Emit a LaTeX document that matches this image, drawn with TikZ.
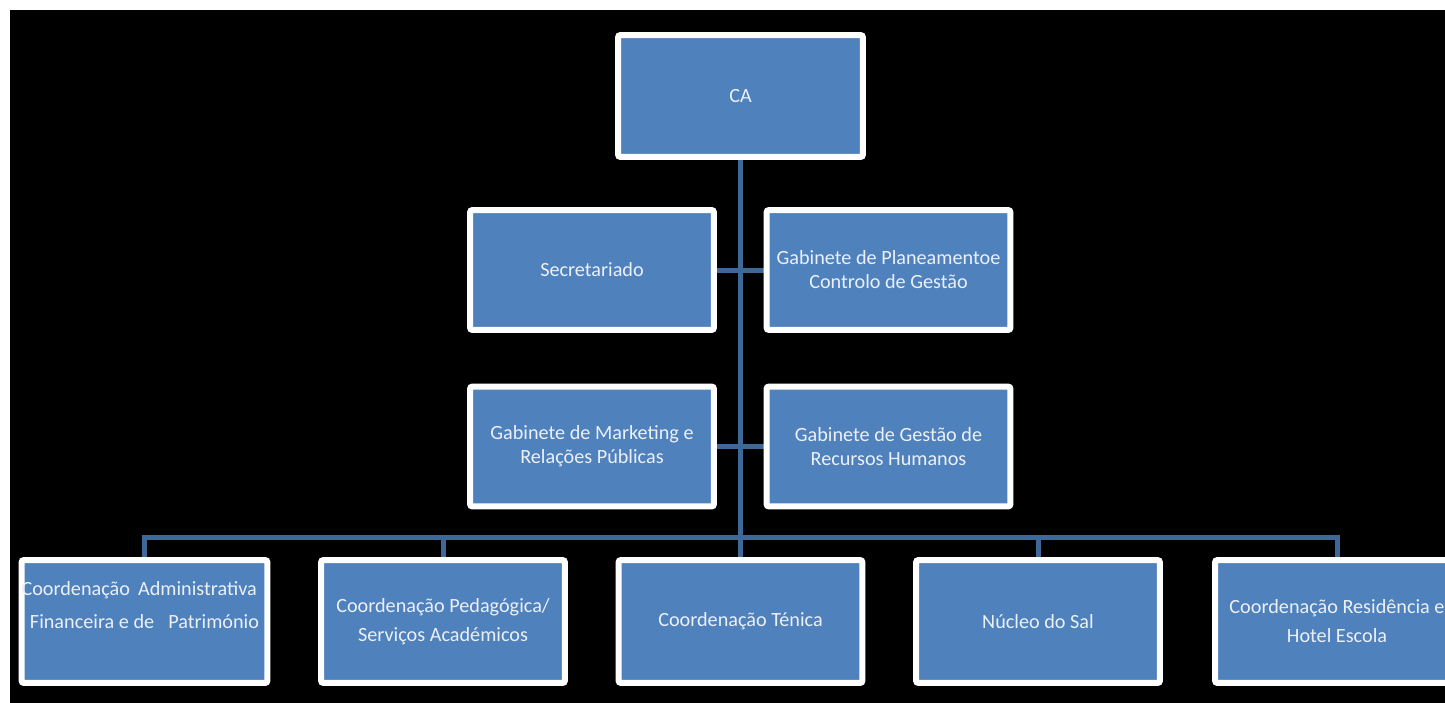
\documentclass[tikz,border=0pt]{standalone}
\usepackage{fontspec}
\setmainfont{Carlito}
\pgfdeclarelayer{bg}
\pgfdeclarelayer{links}
\pgfsetlayers{bg,links,main}
\definecolor{boxblue}{RGB}{79,129,189}
\definecolor{linkblue}{RGB}{62,104,152}
\definecolor{txt}{RGB}{236,240,246}
\begin{document}
\begin{tikzpicture}[x=0.02cm,y=-0.02cm,
  box/.style={draw=white, line width=0.12cm, fill=boxblue, rounded corners=0.05cm,
    minimum width=4.88cm, minimum height=2.4cm, inner sep=0pt, text=txt,
    font=\fontsize{11.5}{13.7}\selectfont, align=center},
  lowbox/.style={box, minimum height=2.46cm},
  link/.style={draw=linkblue, line width=0.1cm}]
\useasboundingbox (0,0) rectangle (1445,703);
\begin{pgfonlayer}{bg}
  \fill[white] (0,0) rectangle (1445,703);
  \fill[black] (10,10) rectangle (1445,703);
\end{pgfonlayer}

\node[box, minimum width=4.9cm, minimum height=2.44cm] (ca) at (740.5,96) {CA};
\node[box] (sec) at (592,270) {Secretariado};
\node[box] (plan) at (888.5,270) {Gabinete de Planeamentoe\\Controlo de Gestão};
\node[box] (mkt) at (592,446.5) {Gabinete de Marketing e\\Relações Públicas};
\node[box] (rh) at (888.5,446.5) {Gabinete de Gestão de\\Recursos Humanos};

\node[lowbox, font=\fontsize{11.5}{18.7}\selectfont] (b1) at (144.5,621.5)
  {\makebox[4.92cm][s]{Coordenação\hspace{0.4em}Administrativa}\\Financeira e de\hspace{0.7em}Património\\[-0.2cm]\strut};
\node[lowbox, font=\fontsize{11.5}{16.5}\selectfont] (b2) at (443,621.5) {Coordenação Pedagógica/\\Serviços Académicos};
\node[lowbox] (b3) at (740.5,621.5) {Coordenação Ténica};
\node[lowbox] (b4) at (1038,621.5) {Núcleo do Sal};
\node[lowbox, font=\fontsize{11.5}{16.5}\selectfont] (b5) at (1337,621.5) {Coordenação Residência e\\Hotel Escola};

\begin{pgfonlayer}{links}
  \coordinate (bus) at (740.5,537);
  \draw[link] (ca.south) -- (ca.south |- bus);
  \draw[link] (sec.east) -- (plan.west);
  \draw[link] (mkt.east) -- (rh.west);
  \draw[link] (b1.north) -- (b1.north |- bus) -- (b5.north |- bus) -- (b5.north);
  \draw[link] (b2.north) -- (b2.north |- bus);
  \draw[link] (b3.north) -- (b3.north |- bus);
  \draw[link] (b4.north) -- (b4.north |- bus);
\end{pgfonlayer}
\end{tikzpicture}
\end{document}
